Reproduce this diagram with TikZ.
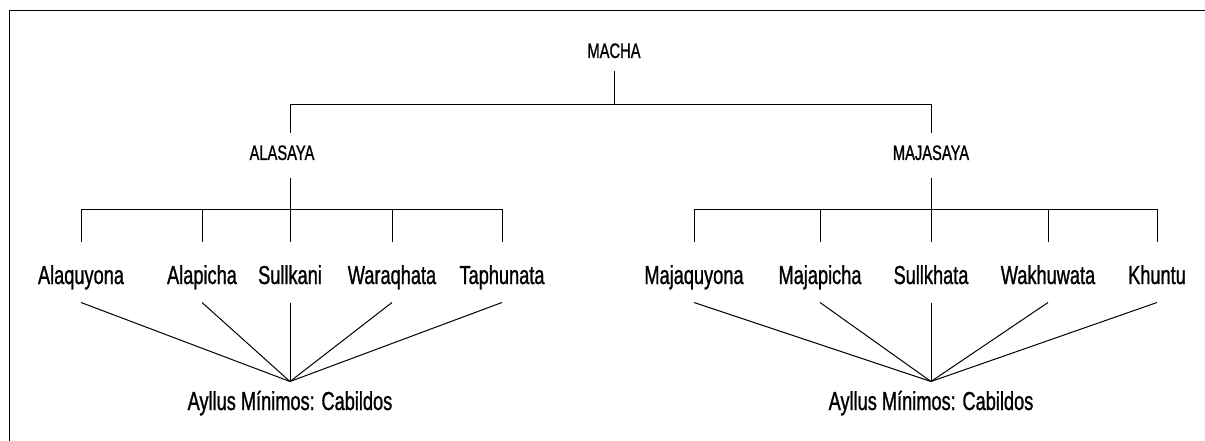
\documentclass[tikz,border=0pt]{standalone}
\usepackage{fontspec}
\setmainfont{Liberation Sans}[FakeStretch=0.7, FakeBold=1]
\tikzset{
  head/.style={anchor=base, font=\fontsize{21}{25}\selectfont, inner xsep=0pt, inner ysep=12pt, text height=14.3pt, text depth=5pt},
  leaf/.style={anchor=base, font=\fontsize{26}{31}\selectfont, inner xsep=0pt, inner ysep=18pt, text height=24pt, text depth=0pt},
  cabildo/.style={anchor=base, font=\fontsize{26}{31}\selectfont, inner xsep=0pt, inner ysep=11pt, text height=17pt, text depth=0pt},
}
\begin{document}
\begin{tikzpicture}[x=1pt, y=-1pt, line width=1pt]
  \useasboundingbox (0,0) rectangle (1205,441);
  \draw[line width=1.3pt] (1205,10.5) -- (9.5,10.5) -- (9.5,441); % marco
  % mitades
  \node[head, text depth=1pt] (macha) at (614,58) {MACHA};
  \node[head] (ala) at (282,160) {ALASAYA};
  \node[head] (maja) at (931,160) {MAJASAYA};
  \coordinate (mbar) at (614,105);
  \coordinate (abar) at (290,209);
  \coordinate (bbar) at (931,209);
  \draw (macha.south) -- (mbar);
  \draw (abar |- ala.north) -- (abar |- mbar) -- (maja.north |- mbar) -- (maja.north);
  % ayllus
  \foreach \n/\x/\txt in {a1/81/Alaquyona, a2/202/Alapicha, a3/290/Sullkani, a4/392/Waraqhata, a5/502/Taphunata,
      b1/694/Majaquyona, b2/820/Majapicha, b3/931/Sullkhata, b4/1048/Wakhuwata, b5/1157/Khuntu}
    \node[leaf] (\n) at (\x,284) {\txt};
  \draw (abar |- ala.south) -- (abar);
  \draw (maja.south) -- (bbar);
  \draw (a1.north) -- (a1.north |- abar) -- (a5.north |- abar) -- (a5.north);
  \draw (b1.north) -- (b1.north |- bbar) -- (b5.north |- bbar) -- (b5.north);
  \foreach \n in {a2,a3,a4}{\draw (\n.north) -- (\n.north |- abar);}
  \foreach \n in {b2,b3,b4}{\draw (\n.north) -- (\n.north |- bbar);}
  % cabildos
  \node[cabildo] (cabA) at (290,410) {Ayllus Mínimos: Cabildos};
  \node[cabildo] (cabB) at (931,410) {Ayllus Mínimos: Cabildos};
  \foreach \n in {a1,a2,a3,a4,a5}{\draw (\n.south) -- (cabA.north);}
  \foreach \n in {b1,b2,b3,b4,b5}{\draw (\n.south) -- (cabB.north);}
\end{tikzpicture}
\end{document}
